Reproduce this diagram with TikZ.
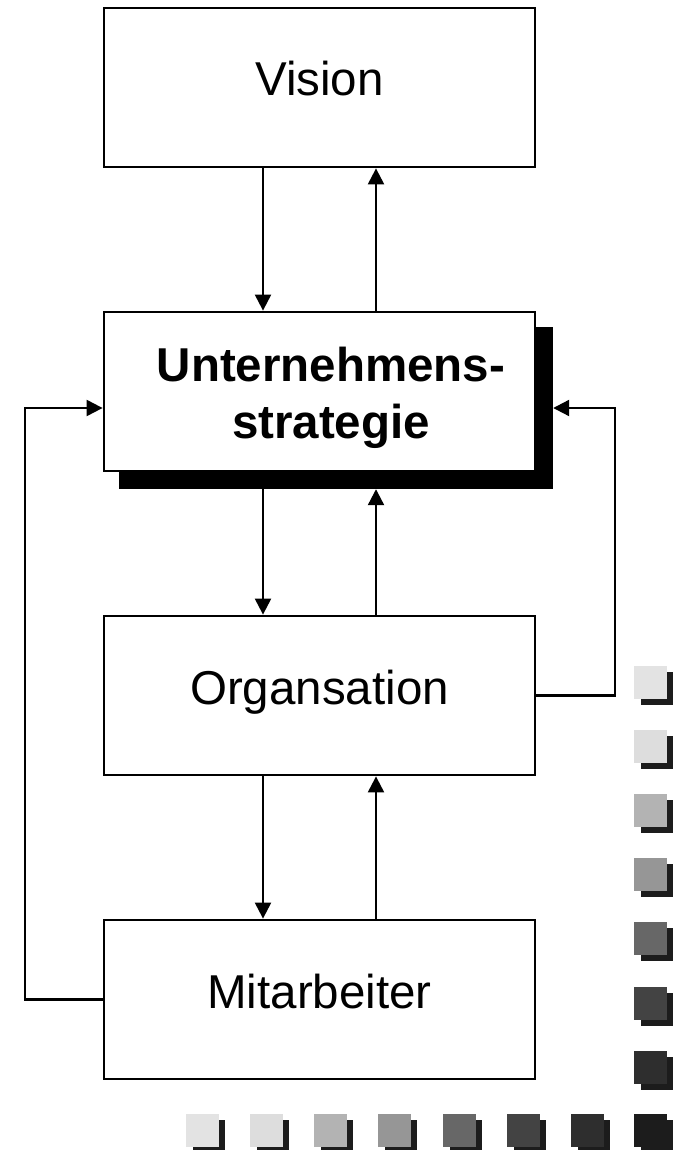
\documentclass[tikz,border=0pt]{standalone}
\usepackage{fontspec}
\setmainfont{Liberation Sans}
\usetikzlibrary{arrows.meta,calc}
\definecolor{sq1}{HTML}{E3E3E3}
\definecolor{sq2}{HTML}{DDDDDD}
\definecolor{sq3}{HTML}{B3B3B3}
\definecolor{sq4}{HTML}{969696}
\definecolor{sq5}{HTML}{676767}
\definecolor{sq6}{HTML}{434343}
\definecolor{sq7}{HTML}{2E2E2E}
\definecolor{sq8}{HTML}{1C1C1C}
\begin{document}
\begin{tikzpicture}[x=1pt,y=-1pt,
  boxnode/.style={draw=black,line width=2.8pt,fill=white,minimum width=431pt,minimum height=159pt,
    inner sep=0pt,font=\fontsize{47.5}{57}\selectfont,text height=17pt,text depth=0pt},
  arr/.style={line width=2.2pt,-{Triangle[length=16pt,width=16pt]}},
  lnk/.style={line width=2.2pt}]
\useasboundingbox (0,0) rectangle (685,1150);
\fill[white] (0,0) rectangle (685,1150);
% shadow of strategy box
\node[fill=black,minimum width=434pt,minimum height=162pt,inner sep=0pt] (ush) at (336,408) {};
\node[boxnode] (V) at (319.5,87.5) {Vision};
\node[boxnode] (U) at (319.5,391.5) {};
\node[font=\fontsize{47.5}{57}\selectfont\bfseries,align=center,inner sep=0pt] (Ut) at (331,398) {Unternehmens-\\strategie};
\node[boxnode] (O) at (319.5,695.5) {Organsation};
\node[boxnode] (M) at (319.5,999.5) {Mitarbeiter};
\coordinate (xl) at (263,0);
\coordinate (xr) at (376,0);
\coordinate (lx) at (25,0);
\coordinate (rx) at (615,0);
% vertical arrows
\draw[arr] (V.south -| xl) -- (U.north -| xl);
\draw[arr] (U.north -| xr) -- (V.south -| xr);
\draw[arr] (U.south -| xl) -- (O.north -| xl);
\draw[arr] (O.north -| xr) -- (ush.south -| xr);
\draw[arr] (O.south -| xl) -- (M.north -| xl);
\draw[arr] (M.north -| xr) -- (O.south -| xr);
% feedback loops
\draw[arr] (M.west) -- (M.west -| lx) -- (ush.center -| lx) -- (ush.center -| U.west);
\draw[arr] (O.east) -- (O.east -| rx) -- (ush.center -| rx) -- (ush.east);
% decorative squares
\foreach \y/\c in {666/sq1,730/sq2,794/sq3,858/sq4,922/sq5,987/sq6,1051/sq7}{
  \fill[sq8] (641,\y+6) rectangle (673,\y+39);
  \fill[\c] (634,\y) rectangle (667,\y+33);
}
\foreach \x/\c in {186/sq1,250/sq2,314/sq3,378/sq4,443/sq5,507/sq6,571/sq7,634/sq8}{
  \fill[sq8] (\x+7,1120) rectangle (\x+39,1150);
  \fill[\c] (\x,1114) rectangle (\x+33,1147);
}
\end{tikzpicture}
\end{document}
